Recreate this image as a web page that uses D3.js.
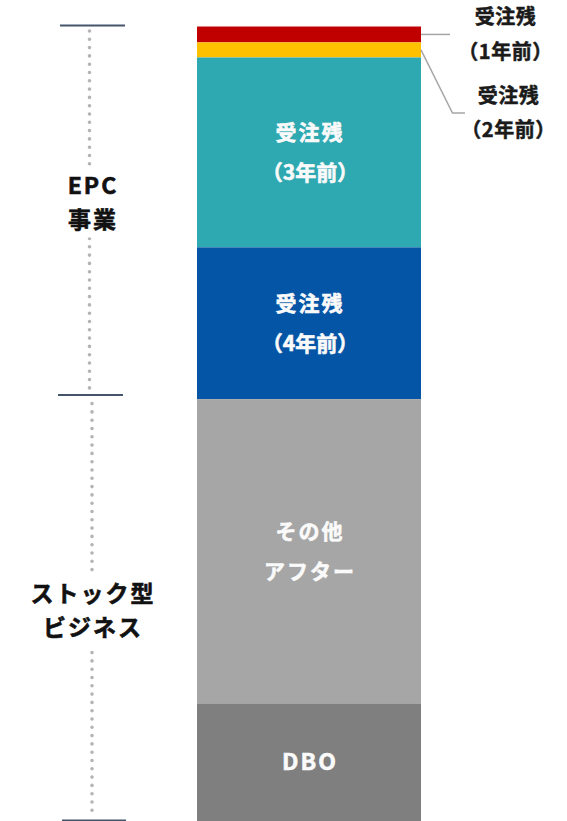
<!DOCTYPE html>
<html>
<head>
<meta charset="utf-8">
<script src="https://cdn.jsdelivr.net/npm/d3@7"></script>
<style>
  html, body { margin: 0; padding: 0; background: #fff; }
  svg { display: block; }
  text { font-family: "Noto Sans CJK JP", "Noto Sans", sans-serif; font-weight: 700; }
</style>
</head>
<body>
<svg id="chart" width="567" height="821"></svg>
<script>
// Stacked composition, top to bottom
const segments = ["受注残1年前", "受注残2年前", "受注残3年前", "受注残4年前", "その他アフター", "DBO"];
const shares = [2.0, 1.9, 23.9, 19.1, 38.3, 14.8];
const colors = ["#c00000", "#ffc000", "#2ea9b1", "#0455a6", "#a6a6a6", "#7f7f7f"];
// labels drawn inside the bar (index -> lines)
const innerLabels = [
  { idx: 2, lines: ["受注残", "(3年前)"] },
  { idx: 3, lines: ["受注残", "(4年前)"] },
  { idx: 4, lines: ["その他", "アフター"] },
  { idx: 5, lines: ["DBO"] }
];
// labels drawn to the right with leader lines
const outerLabels = [
  { idx: 0, lines: ["受注残", "(1年前)"] },
  { idx: 1, lines: ["受注残", "(2年前)"] }
];
// business groups on the left bracket
const groups = [
  { name: ["EPC", "事業"], from: 0, to: 4 },
  { name: ["ストック型", "ビジネス"], from: 4, to: 6 }
];

const svg = d3.select("#chart");
const total = d3.sum(shares);
const y = d3.scaleLinear().domain([0, total]).range([26.5, 821]);
const x = d3.scaleBand().domain(["bar"]).range([197, 421]).paddingInner(0).paddingOuter(0);

const cum = [0];
shares.forEach((v, i) => cum.push(cum[i] + v));

// bar segments
svg.append("g").selectAll("rect")
  .data(shares)
  .join("rect")
  .attr("x", x("bar"))
  .attr("width", x.bandwidth())
  .attr("y", (d, i) => y(cum[i]))
  .attr("height", (d, i) => y(cum[i + 1]) - y(cum[i]))
  .attr("fill", (d, i) => colors[i]);

const cx = x("bar") + x.bandwidth() / 2;
const fw = t => t.replace("(", "（").replace(")", "）");

// labels inside the bar
const inner = svg.append("g").attr("fill", "#fafafa").attr("text-anchor", "middle")
  .attr("stroke", "#fafafa").attr("stroke-width", 0.6)
  .style("font-size", "21px").style("letter-spacing", "2px");
innerLabels.forEach(l => {
  const mid = (y(cum[l.idx]) + y(cum[l.idx + 1])) / 2;
  const n = l.lines.length;
  l.lines.forEach((t, k) => {
    inner.append("text")
      .attr("x", cx + 1)
      .attr("y", mid + (k - (n - 1) / 2) * 40)
      .attr("dy", "0.36em")
      .style("font-size", t === "DBO" ? "23px" : null)
      .style("letter-spacing", t.startsWith("(") ? "0px" : null)
      .text(fw(t));
  });
});

// leader lines and outside labels
const right = x("bar") + x.bandwidth();
const leader = svg.append("g").attr("stroke", "#a6a6a6").attr("stroke-width", 1.5).attr("fill", "none");
const m0 = (y(cum[0]) + y(cum[1])) / 2;
leader.append("path").attr("d", d3.line()([[right, m0], [450, m0]]));
const m1 = (y(cum[1]) + y(cum[2])) / 2;
leader.append("path").attr("d", d3.line()([[right, m1], [452.5, 113], [465, 113]]));

const outer = svg.append("g").attr("fill", "#1a1a1a").attr("text-anchor", "middle")
  .attr("stroke", "#1a1a1a").attr("stroke-width", 0.5)
  .style("font-size", "20px").style("letter-spacing", "0.5px");
const outerPos = [{ x: 505.5, y: [17, 52] }, { x: 508.5, y: [96, 130] }];
outerLabels.forEach((l, i) => {
  l.lines.forEach((t, k) => {
    outer.append("text")
      .attr("x", outerPos[i].x)
      .attr("y", outerPos[i].y[k])
      .attr("dy", "0.36em")
      .text(fw(t));
  });
});

// left bracket: dotted spine and group ticks
const spine = svg.append("g");
spine.append("line")
  .attr("x1", 89.5).attr("x2", 89.5)
  .attr("y1", y(cum[0]) + 4.5).attr("y2", y(cum[4]) - 3)
  .attr("stroke", "#b4b4b4").attr("stroke-width", 3.6)
  .attr("stroke-linecap", "round").attr("stroke-dasharray", "0 8.3");
spine.append("line")
  .attr("x1", 92).attr("x2", 92)
  .attr("y1", y(cum[4]) + 4.5).attr("y2", 821 - 3)
  .attr("stroke", "#b4b4b4").attr("stroke-width", 3.6)
  .attr("stroke-linecap", "round").attr("stroke-dasharray", "0 8.3");

const ticks = [
  { y: y(cum[0]) - 1, x1: 60, x2: 125 },
  { y: y(cum[4]) - 4, x1: 58, x2: 123 },
  { y: 820.5, x1: 62, x2: 126 }
];
spine.selectAll("line.tick").data(ticks).join("line")
  .attr("class", "tick")
  .attr("x1", d => d.x1).attr("x2", d => d.x2)
  .attr("y1", d => d.y).attr("y2", d => d.y)
  .attr("stroke", "#44546a").attr("stroke-width", 2);

// group names, white backing hides the dots under the text
const gl = svg.append("g").attr("text-anchor", "middle");
const groupPos = [{ x: 92, y: [185.5, 219.5] }, { x: 92, y: [594, 628] }];
groups.forEach((g, i) => {
  const p = groupPos[i];
  gl.append("rect")
    .attr("x", p.x - 70).attr("width", 140)
    .attr("y", p.y[0] - 18).attr("height", p.y[1] - p.y[0] + 36)
    .attr("fill", "#fff");
  g.name.forEach((t, k) => {
    gl.append("text")
      .attr("x", p.x + 1)
      .attr("y", p.y[k])
      .attr("dy", "0.36em")
      .attr("fill", "#111").attr("stroke", "#111").attr("stroke-width", 0.6)
      .style("font-size", "23px").style("letter-spacing", "2px")
      .text(t);
  });
});
</script>
</body>
</html>
